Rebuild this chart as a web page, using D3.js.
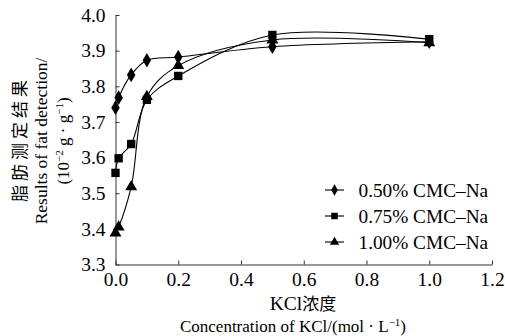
<!DOCTYPE html>
<html><head><meta charset="utf-8">
<script src="https://cdn.jsdelivr.net/npm/d3@7/dist/d3.min.js"></script>
<style>
body{margin:0;background:#fff;}
svg text{font-family:"Liberation Serif",serif !important;fill:#000;}
svg text.cjk, svg tspan.cjk{font-family:"Noto Sans CJK SC",sans-serif !important;}
</style></head>
<body>
<svg id="c" width="505" height="336"></svg>
<script>
const xValues = [0, 0.01, 0.05, 0.1, 0.2, 0.5, 1.0];
const cmc050 = [3.740, 3.768, 3.832, 3.873, 3.882, 3.911, 3.925];
const cmc075 = [3.557, 3.598, 3.638, 3.762, 3.829, 3.944, 3.932];
const cmc100 = [3.388, 3.405, 3.518, 3.771, 3.858, 3.930, 3.922];
const seriesNames = ["0.50% CMC\u2013Na", "0.75% CMC\u2013Na", "1.00% CMC\u2013Na"];
const xTicks = [0, 0.2, 0.4, 0.6, 0.8, 1.0, 1.2];
const yTicks = [3.3, 3.4, 3.5, 3.6, 3.7, 3.8, 3.9, 4.0];

const svg = d3.select("#c");
const L = 115.5, R = 492, T = 15, B = 264.5;
const x = d3.scaleLinear().domain([0, 1.2]).range([L, R]);
const y = d3.scaleLinear().domain([3.3, 4.0]).range([B, T]);
const SERIF = "'Liberation Serif', serif";
const FS = "19.5px";

// axes
const xa = svg.append("g").attr("transform", `translate(0,${B})`)
  .call(d3.axisBottom(x).tickValues(xTicks).tickFormat(d3.format(".1f")).tickSizeInner(-4).tickSizeOuter(0).tickPadding(8));
const ya = svg.append("g").attr("transform", `translate(${L},0)`)
  .call(d3.axisLeft(y).tickValues(yTicks).tickFormat(d3.format(".1f")).tickSizeInner(-4).tickSizeOuter(0).tickPadding(10));
[xa, ya].forEach(g => {
  g.attr("font-family", SERIF).attr("font-size", 19.5);
  g.selectAll("path,line").attr("stroke", "#333").attr("stroke-width", 1);
  g.selectAll("text").style("font-family", SERIF).style("font-size", FS);
});

const series = [cmc050, cmc075, cmc100];
const shapes = [d3.symbolDiamond, d3.symbolSquare, d3.symbolTriangle];
const sizes = [62, 70, 62];
const line = d3.line().x(d => x(d[0])).y(d => y(d[1])).curve(d3.curveCatmullRom.alpha(0.5));

series.forEach((s, i) => {
  const pts = xValues.map((v, j) => [v, s[j]]);
  svg.append("path").attr("d", line(pts)).attr("fill", "none").attr("stroke", "#000").attr("stroke-width", 1.1);
});
series.forEach((s, i) => {
  const pts = xValues.map((v, j) => [v, s[j]]);
  svg.append("g").selectAll("path").data(pts).join("path")
    .attr("transform", d => `translate(${x(d[0])},${y(d[1])})`)
    .attr("d", d3.symbol().type(shapes[i]).size(sizes[i]))
    .attr("fill", "#000");
});

// legend
const lg = svg.append("g");
seriesNames.forEach((n, i) => {
  const cy = 190 + i * 26;
  lg.append("line").attr("x1", 325).attr("x2", 344).attr("y1", cy).attr("y2", cy).attr("stroke", "#000").attr("stroke-width", 1.1);
  lg.append("path").attr("transform", `translate(334.5,${cy})`).attr("d", d3.symbol().type(shapes[i]).size(sizes[i] * 0.6)).attr("fill", "#000");
  lg.append("text").attr("x", 358.5).attr("y", cy + 6.5).style("font-family", SERIF).style("font-size", "19.3px").text(n);
});

// x title
const k = svg.append("text").attr("x", 303).attr("y", 310).attr("text-anchor", "middle").style("font-size", FS);
k.append("tspan").style("font-family", SERIF).text("KCl");
k.append("tspan").attr("class", "cjk").style("font-size", "17px").text("浓度");
const xt = svg.append("text").attr("x", 293).attr("y", 332).attr("text-anchor", "middle").style("font-family", SERIF).style("font-size", "17px");
xt.append("tspan").text("Concentration of KCl/(mol \u00b7 L");
xt.append("tspan").attr("dy", -6).style("font-size", "11px").text("\u22121");
xt.append("tspan").attr("dy", 6).text(")");

// y title
const yg = svg.append("g").attr("transform", "translate(0,141) rotate(-90)");
yg.append("text").attr("class", "cjk").attr("x", 2).attr("y", 26).attr("text-anchor", "middle").style("font-size", "17px").style("letter-spacing", "4px").text("脂肪测定结果");
yg.append("text").attr("x", 0).attr("y", 47).attr("text-anchor", "middle").style("font-family", SERIF).style("font-size", "17.5px").text("Results of fat detection/");
const y3 = yg.append("text").attr("x", 0).attr("y", 69).attr("text-anchor", "middle").style("font-family", SERIF).style("font-size", "17px");
y3.append("tspan").text("(10");
y3.append("tspan").attr("dy", -6).style("font-size", "11px").text("\u22122");
y3.append("tspan").attr("dy", 6).text(" g \u00b7 g");
y3.append("tspan").attr("dy", -6).style("font-size", "11px").text("\u22121");
y3.append("tspan").attr("dy", 6).text(")");
</script>
</body></html>
